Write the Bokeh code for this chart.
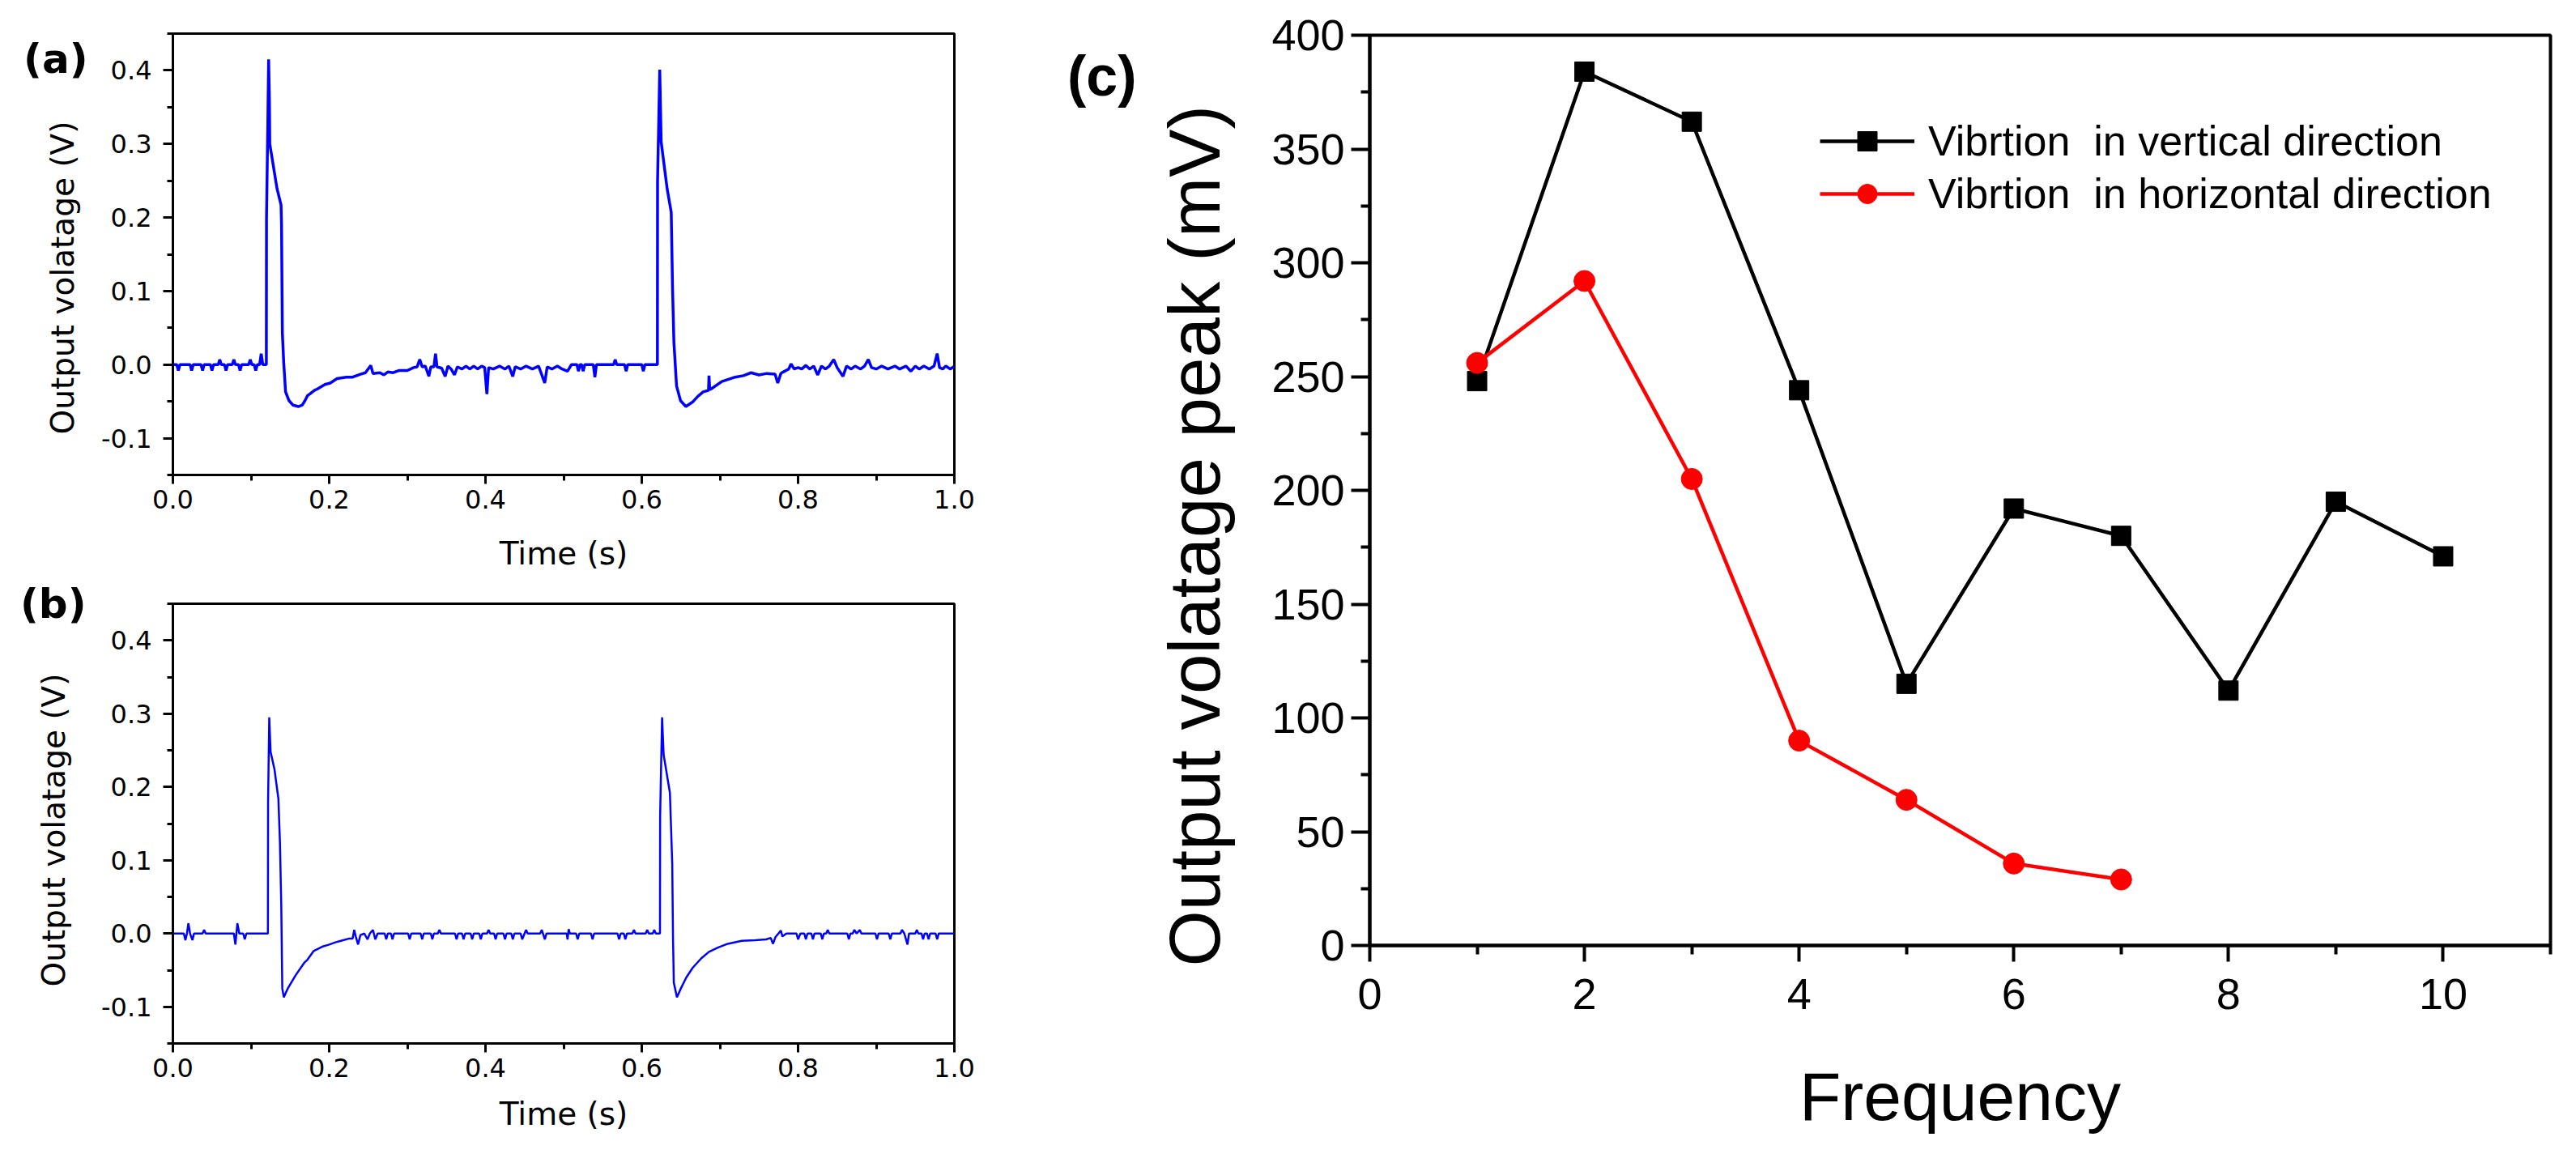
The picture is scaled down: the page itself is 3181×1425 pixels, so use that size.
import math
from bokeh.plotting import figure
from bokeh.layouts import row, column
from bokeh.models import (FixedTicker, PrintfTickFormatter, Legend, LegendItem, Title,
                          LinearAxis, CustomJSTickFormatter)
from bokeh.embed import file_html
from bokeh.resources import INLINE

# ---------------- data: panel (a) ----------------
t_a = [0.000, 0.005, 0.007, 0.009, 0.022, 0.024, 0.026, 0.036, 0.038, 0.040,
       0.048, 0.050, 0.052, 0.058, 0.060, 0.062, 0.066, 0.068, 0.070, 0.076,
       0.078, 0.080, 0.084, 0.086, 0.088, 0.097, 0.099, 0.101, 0.104, 0.106,
       0.108, 0.111, 0.113, 0.115, 0.1196,
       0.1198, 0.1215, 0.1225, 0.1235, 0.1240, 0.1333, 0.1384, 0.1390, 0.1401, 0.1418,
       0.1442, 0.1486, 0.1537, 0.1605, 0.1656, 0.1690, 0.1724, 0.1750, 0.1810, 0.1850,
       0.1946, 0.2014, 0.2100, 0.2220, 0.2300, 0.2400, 0.2464, 0.2532, 0.2560, 0.2650,
       0.2700, 0.2750, 0.2818, 0.2890, 0.3000, 0.3080, 0.3125, 0.3159, 0.3190, 0.3230,
       0.3276, 0.3300, 0.3340, 0.3361, 0.3380, 0.3440, 0.3484, 0.3520, 0.3560, 0.3603,
       0.3640, 0.3700, 0.3750, 0.3800, 0.3850, 0.3900, 0.3950, 0.3990, 0.4018, 0.4040,
       0.4100, 0.4180, 0.4250, 0.4300, 0.4349, 0.4380, 0.4450, 0.4520, 0.4600, 0.4680,
       0.4758, 0.4790, 0.4850, 0.4920, 0.4980, 0.5050, 0.5100, 0.5170, 0.5190, 0.5210,
       0.5230, 0.5250, 0.5270, 0.5380, 0.5400, 0.5420, 0.5640, 0.5660, 0.5680, 0.5780,
       0.5800, 0.5820, 0.6000, 0.6020, 0.6040, 0.6200,
       0.6202, 0.6230, 0.6248, 0.6325, 0.6377, 0.6394, 0.6411, 0.6445, 0.6496, 0.6564,
       0.6649, 0.6718, 0.6786, 0.6854, 0.6860, 0.6870, 0.6888, 0.7024, 0.7195, 0.7300,
       0.7399, 0.7500, 0.7600, 0.7706, 0.7740, 0.7780, 0.7809, 0.7880, 0.7911, 0.7950,
       0.8000, 0.8047, 0.8100, 0.8150, 0.8200, 0.8251, 0.8300, 0.8350, 0.8400, 0.8456,
       0.8500, 0.8575, 0.8620, 0.8680, 0.8730, 0.8800, 0.8850, 0.8899, 0.8940, 0.9000,
       0.9070, 0.9150, 0.9240, 0.9300, 0.9380, 0.9444, 0.9500, 0.9550, 0.9610, 0.9680,
       0.9740, 0.9780, 0.9810, 0.9850, 0.9890, 0.9950, 1.0000]
v_a = [0.000, 0.000, -0.008, 0.000, 0.000, -0.008, 0.000, 0.000, -0.008, 0.000,
       0.000, -0.008, 0.000, 0.000, 0.007, 0.000, 0.000, -0.008, 0.000, 0.000,
       0.007, 0.000, 0.000, -0.008, 0.000, 0.000, 0.007, 0.000, 0.000, -0.008,
       0.000, 0.000, 0.015, 0.000, 0.000,
       0.200, 0.330, 0.415, 0.360, 0.300, 0.239, 0.217, 0.191, 0.043, 0.003,
       -0.037, -0.049, -0.055, -0.057, -0.055, -0.049, -0.042, -0.040, -0.035, -0.033,
       -0.027, -0.025, -0.019, -0.017, -0.017, -0.013, -0.011, -0.001, -0.012, -0.011,
       -0.014, -0.010, -0.011, -0.008, -0.008, -0.004, -0.003, 0.007, -0.003, -0.002,
       -0.016, -0.003, -0.003, 0.015, -0.003, -0.005, -0.016, -0.002, -0.006, -0.014,
       -0.003, -0.006, -0.002, -0.006, -0.002, -0.006, -0.002, -0.004, -0.040, -0.004,
       -0.006, -0.002, -0.006, -0.002, -0.016, -0.003, -0.006, -0.002, -0.006, -0.002,
       -0.025, -0.003, -0.006, -0.002, -0.006, -0.009, 0.000, 0.000, -0.009, 0.000,
       0.000, -0.009, 0.000, 0.000, -0.017, 0.000, 0.000, 0.007, 0.000, 0.000,
       -0.009, 0.000, 0.000, -0.009, 0.000, 0.000,
       0.250, 0.401, 0.303, 0.239, 0.207, 0.103, 0.031, -0.029, -0.049, -0.057,
       -0.051, -0.043, -0.037, -0.035, -0.015, -0.034, -0.033, -0.023, -0.017, -0.015,
       -0.011, -0.014, -0.012, -0.013, -0.025, -0.012, -0.010, -0.006, 0.001, -0.006,
       -0.004, -0.006, -0.001, -0.006, -0.002, -0.014, -0.002, -0.006, -0.002, 0.007,
       -0.004, -0.016, -0.002, -0.006, -0.002, -0.006, -0.002, 0.007, -0.004, -0.006,
       -0.002, -0.006, -0.002, -0.006, -0.002, -0.009, -0.002, -0.006, -0.002, -0.006,
       -0.002, 0.015, -0.004, -0.006, -0.002, -0.006, -0.002]

# ---------------- data: panel (b) ----------------
t_b = [0.000, 0.014, 0.016, 0.018, 0.0198, 0.022, 0.025, 0.027, 0.038, 0.040,
       0.042, 0.078, 0.080, 0.0825, 0.085, 0.090, 0.092, 0.094, 0.1216,
       0.1218, 0.1233, 0.1250, 0.1300, 0.1350, 0.1370, 0.1387, 0.1400, 0.1420, 0.1440,
       0.1470, 0.1570, 0.1680, 0.1720, 0.1800, 0.1910, 0.2000, 0.2080, 0.2150, 0.2250,
       0.2300, 0.2320, 0.2340, 0.2370, 0.2400, 0.2450, 0.2490, 0.2520, 0.2560, 0.2590,
       0.2620, 0.2710, 0.2730, 0.2750, 0.2790, 0.2810, 0.2830, 0.3010, 0.3030, 0.3050,
       0.3170, 0.3190, 0.3210, 0.3300, 0.3320, 0.3340, 0.3390, 0.3410, 0.3430, 0.3610,
       0.3630, 0.3650, 0.3700, 0.3720, 0.3740, 0.3810, 0.3830, 0.3850, 0.3920, 0.3940,
       0.3960, 0.4020, 0.4040, 0.4060, 0.4110, 0.4130, 0.4150, 0.4230, 0.4250, 0.4270,
       0.4330, 0.4350, 0.4370, 0.4450, 0.4470, 0.4500, 0.4520, 0.4540, 0.4700, 0.4720,
       0.4760, 0.4780, 0.5040, 0.5050, 0.5065, 0.5080, 0.5160, 0.5180, 0.5200, 0.5350,
       0.5370, 0.5390, 0.5690, 0.5710, 0.5730, 0.5770, 0.5790, 0.5810, 0.5880, 0.5900,
       0.5920, 0.6050, 0.6070, 0.6090, 0.6140, 0.6160, 0.6180, 0.6233,
       0.6235, 0.6260, 0.6280, 0.6360, 0.6390, 0.6400, 0.6410, 0.6450, 0.6500, 0.6570,
       0.6650, 0.6760, 0.6860, 0.6980, 0.7100, 0.7280, 0.7450, 0.7590, 0.7650, 0.7680,
       0.7710, 0.7780, 0.7800, 0.7850, 0.7980, 0.8000, 0.8030, 0.8080, 0.8100, 0.8120,
       0.8170, 0.8190, 0.8210, 0.8290, 0.8310, 0.8330, 0.8360, 0.8380, 0.8400, 0.8630,
       0.8650, 0.8670, 0.8700, 0.8720, 0.8750, 0.8790, 0.8810, 0.8990, 0.9010, 0.9030,
       0.9160, 0.9180, 0.9200, 0.9310, 0.9330, 0.9360, 0.9400, 0.9420, 0.9500, 0.9520,
       0.9540, 0.9580, 0.9600, 0.9620, 0.9650, 0.9670, 0.9690, 0.9760, 0.9780, 0.9800,
       1.0000]
v_b = [0.000, 0.000, -0.009, 0.000, 0.014, 0.000, -0.009, 0.000, 0.000, 0.005,
       0.000, 0.000, -0.015, 0.014, 0.000, 0.000, -0.008, 0.000, 0.000,
       0.180, 0.295, 0.248, 0.224, 0.184, 0.124, 0.037, -0.075, -0.087, -0.082,
       -0.075, -0.057, -0.040, -0.036, -0.024, -0.018, -0.015, -0.012, -0.010, -0.007,
       -0.007, 0.005, -0.004, -0.015, -0.002, 0.000, -0.008, 0.000, 0.005, -0.008,
       0.000, 0.000, -0.008, 0.000, 0.000, -0.008, 0.000, 0.000, -0.008, 0.000,
       0.000, -0.008, 0.000, 0.000, -0.008, 0.000, 0.000, 0.005, 0.000, 0.000,
       -0.008, 0.000, 0.000, -0.008, 0.000, 0.000, -0.008, 0.000, 0.000, -0.008,
       0.000, 0.000, 0.005, 0.000, 0.000, -0.008, 0.000, 0.000, -0.008, 0.000,
       0.000, -0.008, 0.000, 0.000, -0.008, 0.000, 0.005, 0.000, 0.000, 0.005,
       -0.008, 0.000, 0.000, -0.008, 0.006, 0.000, 0.000, -0.008, 0.000, 0.000,
       -0.008, 0.000, 0.000, -0.008, 0.000, 0.000, -0.008, 0.000, 0.000, 0.005,
       0.000, 0.000, 0.005, 0.000, 0.000, 0.005, 0.000, 0.000,
       0.160, 0.295, 0.244, 0.192, 0.095, -0.008, -0.067, -0.087, -0.075, -0.060,
       -0.047, -0.034, -0.025, -0.019, -0.014, -0.010, -0.009, -0.008, -0.006, -0.014,
       -0.005, 0.004, -0.004, 0.000, 0.000, -0.008, 0.000, 0.000, -0.008, 0.000,
       0.000, -0.008, 0.000, 0.000, -0.008, 0.000, 0.000, 0.005, 0.000, 0.000,
       -0.008, 0.000, 0.000, 0.005, 0.000, 0.005, 0.000, 0.000, -0.008, 0.000,
       0.000, -0.008, 0.000, 0.000, 0.005, 0.000, -0.015, 0.000, 0.000, 0.005,
       0.000, 0.000, -0.008, 0.000, 0.000, -0.008, 0.000, 0.000, -0.008, 0.000,
       0.000]

time_ticks = [0.0, 0.2, 0.4, 0.6, 0.8, 1.0]
time_minor = [0.1, 0.3, 0.5, 0.7, 0.9]
volt_ticks = [-0.1, 0.0, 0.1, 0.2, 0.3, 0.4]
volt_minor = [-0.15, -0.05, 0.05, 0.15, 0.25, 0.35, 0.45]

# ---------------- data: panel (c) ----------------
freq_vert = [1, 2, 3, 4, 5, 6, 7, 8, 9, 10]
peak_vert = [248, 384, 362, 244, 115, 192, 180, 112, 195, 171]
freq_horiz = [1, 2, 3, 4, 5, 6, 7]
peak_horiz = [256, 292, 205, 90, 64, 36, 29]
freq_ticks = [0, 2, 4, 6, 8, 10]
freq_minor = [1, 3, 5, 7, 9, 11]
mv_ticks = [0, 50, 100, 150, 200, 250, 300, 350, 400]
mv_minor = [25, 75, 125, 175, 225, 275, 325, 375]

legend_labels = ["Vibrtion  in vertical direction", "Vibrtion  in horizontal direction"]

SMALL_FONT = "DejaVu Sans"
BIG_FONT = "Liberation Sans"


def style_axes(p, lw, tick_out, minor_out, lab_size, font, xstand, ystand, ytick_out, yminor_out,
               xtitle, xt_size, xt_stand):
    p.grid.visible = False
    p.outline_line_color = "black"
    p.outline_line_width = lw
    p.background_fill_color = "white"
    p.border_fill_color = "white"
    for ax in (p.xaxis[0], p.yaxis[0]):
        ax.axis_line_width = lw
        ax.major_tick_line_width = lw
        ax.minor_tick_line_width = lw
        ax.major_tick_in = 0
        ax.minor_tick_in = 0
        ax.major_label_text_font = font
        ax.major_label_text_font_size = lab_size
        ax.major_label_text_color = "black"
        ax.axis_line_color = "black"
        ax.axis_label_text_font = font
        ax.axis_label_text_font_style = "normal"
        ax.axis_label_text_color = "black"
    p.xaxis[0].major_tick_out = tick_out
    p.xaxis[0].minor_tick_out = minor_out
    p.yaxis[0].major_tick_out = ytick_out
    p.yaxis[0].minor_tick_out = yminor_out
    p.xaxis[0].major_label_standoff = xstand
    p.yaxis[0].major_label_standoff = ystand
    p.xaxis[0].axis_label = xtitle
    p.xaxis[0].axis_label_text_font_size = xt_size
    p.xaxis[0].axis_label_standoff = xt_stand


def spacer_axis(p, w, where):
    # an unlabeled, invisible axis that only reserves w pixels between the y axis and its title
    ax = LinearAxis(ticker=FixedTicker(ticks=[where], minor_ticks=[]),
                    formatter=CustomJSTickFormatter(code="return '';"),
                    axis_line_color=None, major_tick_line_color=None, minor_tick_line_color=None,
                    major_tick_in=0, major_tick_out=w, minor_tick_in=0, minor_tick_out=0,
                    major_label_standoff=0)
    p.add_layout(ax, "left")


def y_title(p, text, font, size, offset, standoff):
    t = Title(text=text, align="left", vertical_align="bottom", offset=offset, standoff=standoff,
              text_font=font, text_font_size=size, text_font_style="normal", text_color="black")
    p.add_layout(t, "left")


def letter_axis(p, letter, font, size, where, standoff):
    ax = LinearAxis(ticker=FixedTicker(ticks=[where], minor_ticks=[]),
                    formatter=CustomJSTickFormatter(code="return %r;" % letter),
                    axis_line_color=None, major_tick_line_color=None, minor_tick_line_color=None,
                    major_tick_in=0, major_tick_out=0, minor_tick_in=0, minor_tick_out=0,
                    major_label_standoff=standoff, major_label_text_font=font,
                    major_label_text_font_size=size, major_label_text_font_style="bold",
                    major_label_text_color="black")
    p.add_layout(ax, "left")


def wave_panel(t, v, lw, width, height, bl, br, bt, bb, letter, l_at, l_stand,
               spacer, yt_off, xt_stand):
    p = figure(width=width, height=height, x_range=(0, 1), y_range=(-0.15, 0.45),
               output_backend="svg", toolbar_location=None,
               min_border_left=bl, min_border_right=br, min_border_top=bt, min_border_bottom=bb)
    p.line(t, v, line_color="#0000FF", line_width=lw)
    p.xaxis[0].ticker = FixedTicker(ticks=time_ticks, minor_ticks=time_minor)
    p.yaxis[0].ticker = FixedTicker(ticks=volt_ticks, minor_ticks=volt_minor)
    p.xaxis[0].formatter = PrintfTickFormatter(format="%.1f")
    p.yaxis[0].formatter = PrintfTickFormatter(format="%.1f")
    style_axes(p, 3, 11, 7, "32px", SMALL_FONT, 7, 14, 12, 7, "Time (s)", "39px", xt_stand)
    spacer_axis(p, spacer, 0.0)
    y_title(p, "Output volatage (V)", SMALL_FONT, "39px", yt_off, 35)
    letter_axis(p, letter, SMALL_FONT, "50px", l_at, l_stand)
    return p


pa = wave_panel(t_a, v_a, 3.5, 1240, 708, 213, 48, 41, 120, "(a)", 0.415, -73, 5, 50, 30)
pb = wave_panel(t_b, v_b, 2.5, 1240, 717, 202, 62, 37, 137, "(b)", 0.45, -82, 16, 70, 20)

# ---------------- panel (c) ----------------
pc = figure(width=1935, height=1425, x_range=(0, 11), y_range=(0, 400),
            output_backend="svg", toolbar_location=None,
            min_border_left=451, min_border_right=26, min_border_top=43, min_border_bottom=258)
rl1 = pc.line(freq_vert, peak_vert, line_color="black", line_width=4.5)
rs1 = pc.scatter(freq_vert, peak_vert, marker="square", size=24, fill_color="black", line_color="black")
rl2 = pc.line(freq_horiz, peak_horiz, line_color="red", line_width=4.5)
rs2 = pc.scatter(freq_horiz, peak_horiz, marker="circle", size=26, fill_color="red", line_color="red")
pc.xaxis[0].ticker = FixedTicker(ticks=freq_ticks, minor_ticks=freq_minor)
pc.yaxis[0].ticker = FixedTicker(ticks=mv_ticks, minor_ticks=mv_minor)
style_axes(pc, 4, 20, 11, "54px", BIG_FONT, 21, 8, 23, 11, "Frequency", "84px", 58)
spacer_axis(pc, 18, 200)
y_title(pc, "Output volatage peak (mV)", BIG_FONT, "89px", -26, 50)
letter_axis(pc, "(c)", BIG_FONT, "70px", 382, -6)

legend = Legend(items=[LegendItem(label=legend_labels[0], renderers=[rl1, rs1]),
                       LegendItem(label=legend_labels[1], renderers=[rl2, rs2])],
                location=(556, 898), border_line_color=None, background_fill_alpha=0,
                padding=0, margin=0, spacing=5, glyph_width=117, glyph_height=60,
                label_height=60, label_standoff=17, label_text_font=BIG_FONT,
                label_text_font_size="52px", label_text_color="black")
pc.add_layout(legend, "center")

layout = row(column(pa, pb), pc)
open("out.html", "w").write(file_html(layout, INLINE))
